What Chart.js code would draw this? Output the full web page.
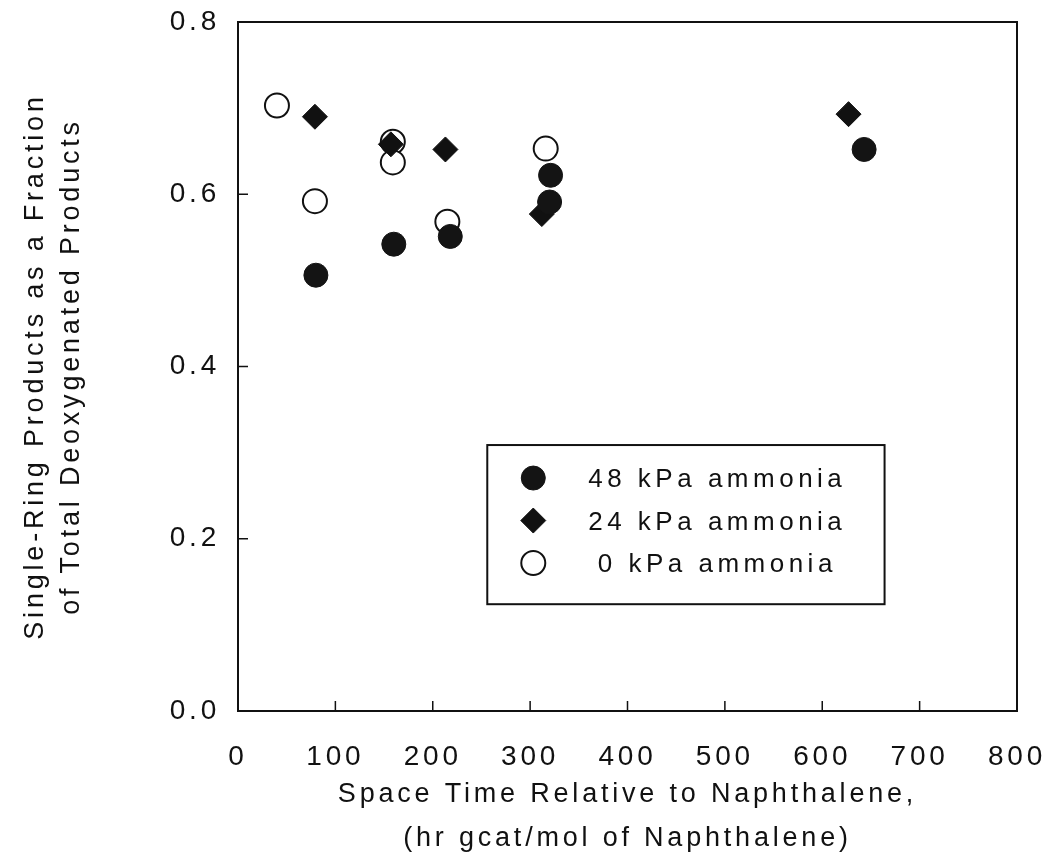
<!DOCTYPE html>
<html>
<head>
<meta charset="utf-8">
<title>Single-ring products vs space time</title>
<script src="https://cdn.jsdelivr.net/npm/chart.js@4.4.0/dist/chart.umd.min.js"></script>
<style>
  html, body { margin: 0; padding: 0; background: #fff; }
</style>
</head>
<body>
<canvas id="fractionChart" width="1049" height="861"></canvas>
<script>
// axis ticks
const xTicks = [0, 100, 200, 300, 400, 500, 600, 700, 800];
const yTicks = [0, 0.2, 0.4, 0.6, 0.8];

// series labels
const seriesLabels = ['48 kPa ammonia', '24 kPa ammonia', '0 kPa ammonia'];

// space time (hr gcat/mol) and single-ring fraction for each ammonia pressure
const time48 = [80, 160, 218, 320, 321, 643];
const frac48 = [0.506, 0.542, 0.551, 0.591, 0.622, 0.652];

const time24 = [79, 157, 213, 312, 627];
const frac24 = [0.690, 0.658, 0.652, 0.577, 0.693];

const time0 = [40, 79, 159, 159, 215, 316];
const frac0 = [0.703, 0.592, 0.661, 0.637, 0.568, 0.653];

const FONT = "'Liberation Sans', Arial, Helvetica, sans-serif";
const INK = '#111';

function toPoints(xs, ys) {
  return xs.map((x, i) => ({ x: x, y: ys[i] }));
}

// fixed axis boxes; drop the label overflow padding so the plot keeps its size
function fixX(s) {
  s.height = 150;
  s.paddingLeft = 0;
  s.paddingRight = 0;
}
function fixY(s) {
  s.width = 238;
  s.paddingTop = 0;
  s.paddingBottom = 0;
}

// frame, inward tick marks and the boxed legend
const framePlugin = {
  id: 'frame',
  beforeDraw(chart) {
    chart.ctx.letterSpacing = '3.8px';
  },
  beforeDatasetsDraw(chart) {
    const { ctx, chartArea: a, scales } = chart;
    ctx.save();
    ctx.strokeStyle = INK;
    ctx.lineWidth = 2;
    ctx.strokeRect(a.left, a.top, a.right - a.left, a.bottom - a.top);
    ctx.lineWidth = 1.5;
    ctx.beginPath();
    scales.x.ticks.forEach(t => {
      const px = scales.x.getPixelForValue(t.value);
      if (px <= a.left + 1 || px >= a.right - 1) return;
      ctx.moveTo(px, a.bottom);
      ctx.lineTo(px, a.bottom - 10);
    });
    scales.y.ticks.forEach(t => {
      const py = scales.y.getPixelForValue(t.value);
      if (py <= a.top + 1 || py >= a.bottom - 1) return;
      ctx.moveTo(a.left, py);
      ctx.lineTo(a.left + 10, py);
    });
    ctx.stroke();
    ctx.restore();
  },
  afterDraw(chart) {
    const { ctx, chartArea: a } = chart;
    const w = a.right - a.left;
    const h = a.bottom - a.top;
    const box = {
      left: a.left + w * 0.32,
      right: a.left + w * 0.83,
      top: a.top + h * 0.614,
      bottom: a.top + h * 0.845
    };
    ctx.save();
    ctx.fillStyle = '#fff';
    ctx.fillRect(box.left, box.top, box.right - box.left, box.bottom - box.top);
    ctx.strokeStyle = INK;
    ctx.lineWidth = 2;
    ctx.strokeRect(box.left, box.top, box.right - box.left, box.bottom - box.top);

    const rowGap = 42.5;
    const firstRow = box.top + 33;
    const markX = box.left + 46;
    const textX = box.left + 230;
    ctx.font = '26px ' + FONT;
    ctx.letterSpacing = '4.5px';
    ctx.textAlign = 'center';
    ctx.textBaseline = 'middle';
    chart.data.datasets.forEach((ds, i) => {
      const y = firstRow + i * rowGap;
      ctx.fillStyle = ds.pointBackgroundColor;
      ctx.strokeStyle = ds.pointBorderColor;
      ctx.lineWidth = ds.pointBorderWidth;
      ctx.beginPath();
      if (ds.pointStyle === 'rectRot') {
        const r = ds.pointRadius;
        ctx.moveTo(markX - r, y);
        ctx.lineTo(markX, y - r);
        ctx.lineTo(markX + r, y);
        ctx.lineTo(markX, y + r);
        ctx.closePath();
      } else {
        ctx.arc(markX, y, ds.pointRadius, 0, Math.PI * 2);
      }
      ctx.fill();
      ctx.stroke();
      ctx.fillStyle = INK;
      ctx.fillText(ds.label, textX, y + 2);
    });
    ctx.restore();
  }
};

const ctx = document.getElementById('fractionChart').getContext('2d');

const fractionChart = new Chart(ctx, {
  type: 'scatter',
  data: {
    datasets: [
      {
        label: seriesLabels[0],
        data: toPoints(time48, frac48),
        pointStyle: 'circle',
        pointRadius: 12,
        pointBackgroundColor: '#141414',
        pointBorderColor: '#141414',
        pointBorderWidth: 1
      },
      {
        label: seriesLabels[1],
        data: toPoints(time24, frac24),
        pointStyle: 'rectRot',
        pointRadius: 12.5,
        pointBackgroundColor: '#111',
        pointBorderColor: '#111',
        pointBorderWidth: 1
      },
      {
        label: seriesLabels[2],
        data: toPoints(time0, frac0),
        pointStyle: 'circle',
        pointRadius: 12,
        pointBackgroundColor: '#fff',
        pointBorderColor: '#111',
        pointBorderWidth: 2
      }
    ]
  },
  options: {
    responsive: false,
    animation: false,
    devicePixelRatio: 1,
    layout: { padding: { top: 22, right: 32, left: 0, bottom: 0 } },
    plugins: {
      legend: { display: false },
      tooltip: { enabled: false }
    },
    scales: {
      x: {
        type: 'linear',
        min: 0,
        max: 800,
        afterBuildTicks: s => { s.ticks = xTicks.map(v => ({ value: v })); },
        afterFit: fixX,
        ticks: {
          font: { family: FONT, size: 28 },
          color: INK,
          padding: 29,
          maxRotation: 0
        },
        grid: { display: false, drawTicks: false },
        border: { display: false },
        title: {
          display: true,
          text: ['Space Time Relative to Naphthalene,', '(hr gcat/mol of Naphthalene)'],
          font: { family: FONT, size: 27, lineHeight: 44 / 27 },
          color: INK,
          padding: { top: 0, bottom: 0 }
        }
      },
      y: {
        type: 'linear',
        min: 0,
        max: 0.8,
        afterBuildTicks: s => { s.ticks = yTicks.map(v => ({ value: v })); },
        afterFit: fixY,
        ticks: {
          font: { family: FONT, size: 28 },
          color: INK,
          padding: 18,
          callback: v => v.toFixed(1)
        },
        grid: { display: false, drawTicks: false },
        border: { display: false },
        title: {
          display: true,
          text: ['Single-Ring Products as a Fraction', 'of Total Deoxygenated Products'],
          font: { family: FONT, size: 27, lineHeight: 36 / 27 },
          color: INK,
          padding: { top: 18, bottom: 0 }
        }
      }
    }
  },
  plugins: [framePlugin]
});
</script>
</body>
</html>
